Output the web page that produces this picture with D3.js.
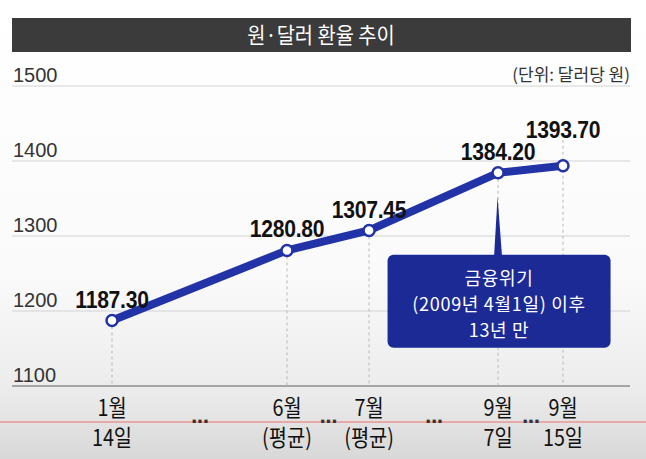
<!DOCTYPE html>
<html>
<head>
<meta charset="utf-8">
<script src="https://cdn.jsdelivr.net/npm/d3@7/dist/d3.min.js"></script>
<style>
  html, body { margin: 0; padding: 0; background: #fff; }
  svg { display: block; }
</style>
</head>
<body>
<svg id="chart" width="646" height="459"></svg>
<script>
// Won-dollar exchange rate chart

const title = '원·달러 환율 추이';
const unitLabel = '(단위: 달러당 원)';
const categories = ['1월14일', '6월평균', '7월평균', '9월7일', '9월15일'];
const catLine1 = ['1월', '6월', '7월', '9월', '9월'];
const catLine2 = ['14일', '(평균)', '(평균)', '7일', '15일'];
const rates = [1187.30, 1280.80, 1307.45, 1384.20, 1393.70];
const yTicks = [1100, 1200, 1300, 1400, 1500];
const calloutLines = ['금융위기', '(2009년 4월1일) 이후', '13년 만'];

const width = 646;
const height = 459;
const left = 12, right = 630;
const blue = '#2133a6';
const korean = "'Noto Sans CJK KR', sans-serif";
const narrow = "'Liberation Sans Narrow', 'Liberation Sans', sans-serif";

const svg = d3.select('#chart');

// text squeezed horizontally, like the condensed newspaper face
function squeezed(g, px, py, sx) {
  return g.append('text')
    .attr('transform', `translate(${px},${py}) scale(${sx},1)`)
    .attr('text-anchor', 'middle');
}

// background (slight grey fade at the bottom)
const defs = svg.append('defs');
const grad = defs.append('linearGradient')
  .attr('id', 'bg').attr('x1', 0).attr('y1', 0).attr('x2', 0).attr('y2', 1);
grad.append('stop').attr('offset', '0').attr('stop-color', '#ffffff');
grad.append('stop').attr('offset', '0.6').attr('stop-color', '#fafafa');
grad.append('stop').attr('offset', '0.85').attr('stop-color', '#ececec');
grad.append('stop').attr('offset', '1').attr('stop-color', '#d8d8d8');
svg.append('rect').attr('width', width).attr('height', height).attr('fill', 'url(#bg)');

// title bar
svg.append('rect')
  .attr('x', left).attr('y', 18)
  .attr('width', right - left + 1).attr('height', 34)
  .attr('fill', '#3b3b3b');
squeezed(svg, (left + right) / 2, 43, 0.9)
  .attr('fill', '#fff')
  .attr('font-family', korean)
  .attr('font-size', '22px')
  .text(title);

// scales
const y = d3.scaleLinear().domain([1100, 1500]).range([386, 86]);
const slotFrac = [0, 0.388, 0.570, 0.856, 1];
const x = d3.scaleOrdinal()
  .domain(categories)
  .range(slotFrac.map(f => 112 + f * (563 - 112)));

// grid lines + tick labels
yTicks.forEach(t => {
  svg.append('line')
    .attr('x1', left).attr('x2', right)
    .attr('y1', y(t)).attr('y2', y(t))
    .attr('stroke', t === 1100 ? '#8c8c8c' : '#d2d2d2')
    .attr('stroke-width', t === 1100 ? 1.5 : 1);
  svg.append('text')
    .attr('x', 13).attr('y', y(t) - 4)
    .attr('fill', '#333')
    .attr('font-family', narrow)
    .attr('font-size', '20px')
    .text(t);
});

svg.append('text')
  .attr('x', right).attr('y', 81)
  .attr('text-anchor', 'end')
  .attr('fill', '#333')
  .attr('font-family', korean)
  .attr('font-size', '17px')
  .text(unitLabel);

// dashed drop lines
categories.forEach((c, i) => {
  svg.append('line')
    .attr('x1', x(c)).attr('x2', x(c))
    .attr('y1', i === 4 ? y(rates[i]) - 32 : y(rates[i]))
    .attr('y2', y(1100))
    .attr('stroke', '#b8b8b8')
    .attr('stroke-dasharray', '3,3');
});

// callout box with pointer
const cx = x(categories[3]);
const boxTop = y(1275);
const boxW = 223, boxH = 93;
svg.append('path')
  .attr('d', `M${cx - 0.5},${y(rates[3]) + 24} L${cx + 4},${boxTop + 2} L${cx - 4},${boxTop + 2} Z`)
  .attr('fill', '#1c2a96');
svg.append('rect')
  .attr('x', cx - boxW / 2 + 1).attr('y', boxTop)
  .attr('width', boxW).attr('height', boxH)
  .attr('rx', 6)
  .attr('fill', '#1c2a96');
calloutLines.forEach((t, i) => {
  svg.append('text')
    .attr('x', cx + 1)
    .attr('y', boxTop + 30 + i * 26)
    .attr('text-anchor', 'middle')
    .attr('fill', '#fff')
    .attr('font-family', korean)
    .attr('font-size', '18px')
    .attr('letter-spacing', '0.7px')
    .text(t);
});

// line + points
const points = categories.map((c, i) => ({ c, v: rates[i] }));
svg.append('path')
  .datum(points)
  .attr('d', d3.line().x(d => x(d.c)).y(d => y(d.v)))
  .attr('fill', 'none')
  .attr('stroke', blue)
  .attr('stroke-width', 8)
  .attr('stroke-linejoin', 'round');

svg.selectAll('circle.pt')
  .data(points)
  .enter().append('circle')
  .attr('class', 'pt')
  .attr('cx', d => x(d.c))
  .attr('cy', d => y(d.v))
  .attr('r', 5.5)
  .attr('fill', '#fff')
  .attr('stroke', blue)
  .attr('stroke-width', 2.5);

// value labels
const lift = [13, 13, 12, 13, 28];
points.forEach((d, i) => {
  squeezed(svg, x(d.c), y(d.v) - lift[i], 0.88)
    .attr('fill', '#111')
    .attr('font-family', "'Liberation Sans', sans-serif")
    .attr('font-weight', 'bold')
    .attr('font-size', '24px')
    .attr('letter-spacing', '-0.3px')
    .text(d.v.toFixed(2));
});

// video progress line (artifact in the source frame)
svg.append('line')
  .attr('x1', 0).attr('x2', width)
  .attr('y1', 422).attr('y2', 422)
  .attr('stroke', '#e9a9a9')
  .attr('stroke-width', 2);

// category labels
categories.forEach((c, i) => {
  squeezed(svg, x(c), 416, 0.86)
    .attr('fill', '#111')
    .attr('font-family', korean)
    .attr('font-size', '23px')
    .text(catLine1[i]);
  squeezed(svg, x(c), 446, 0.86)
    .attr('fill', '#111')
    .attr('font-family', korean)
    .attr('font-size', '23px')
    .text(catLine2[i]);
});

// ellipsis between categories
d3.pairs(categories).forEach(([a, b]) => {
  svg.append('text')
    .attr('x', (x(a) + x(b)) / 2).attr('y', 428)
    .attr('text-anchor', 'middle')
    .attr('fill', '#333')
    .attr('font-family', "'DejaVu Sans', sans-serif")
    .attr('font-weight', 'bold')
    .attr('font-size', '18px')
    .attr('letter-spacing', '-1px')
    .text('···');
});
</script>
</body>
</html>
